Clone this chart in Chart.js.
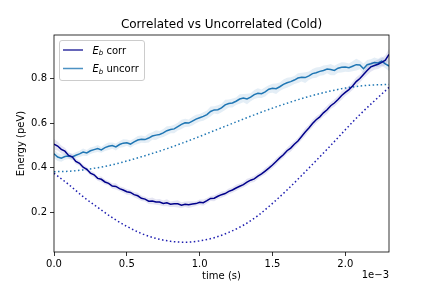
<!DOCTYPE html>
<html>
<head>
<meta charset="utf-8">
<script src="https://cdn.jsdelivr.net/npm/chart.js@4/dist/chart.umd.min.js"></script>
<style>
html,body{margin:0;padding:0;background:#fff;}
#wrap{width:432px;height:288px;}
</style>
</head>
<body>
<div id="wrap"><canvas id="c" width="432" height="288"></canvas></div>
<script>
// time in units of 1e-3 s
const time = [0,0.025,0.05,0.075,0.1,0.125,0.15,0.175,0.2,0.225,
  0.25,0.275,0.3,0.325,0.35,0.375,0.4,0.425,0.45,0.475,
  0.5,0.525,0.55,0.575,0.6,0.625,0.65,0.675,0.7,0.725,
  0.75,0.775,0.8,0.825,0.85,0.875,0.9,0.925,0.95,0.975,
  1.0,1.025,1.05,1.075,1.1,1.125,1.15,1.175,1.2,1.225,
  1.25,1.275,1.3,1.325,1.35,1.375,1.4,1.425,1.45,1.475,
  1.5,1.525,1.55,1.575,1.6,1.625,1.65,1.675,1.7,1.725,
  1.75,1.775,1.8,1.825,1.85,1.875,1.9,1.925,1.95,1.975,
  2.0,2.025,2.05,2.075,2.1,2.125,2.15,2.175,2.2,2.225,
  2.25,2.275,2.3];
const corr = [0.505,0.497,0.482,0.474,0.455,0.449,0.428,0.420,0.402,0.393,
  0.376,0.368,0.352,0.348,0.336,0.330,0.318,0.316,0.306,0.300,
  0.292,0.289,0.279,0.274,0.263,0.259,0.250,0.251,0.246,0.246,
  0.240,0.243,0.236,0.238,0.238,0.232,0.236,0.234,0.237,0.239,
  0.245,0.243,0.252,0.262,0.263,0.272,0.279,0.284,0.294,0.300,
  0.309,0.317,0.324,0.335,0.344,0.350,0.362,0.372,0.385,0.398,
  0.412,0.428,0.444,0.458,0.476,0.488,0.505,0.520,0.540,0.560,
  0.578,0.598,0.615,0.628,0.646,0.660,0.678,0.690,0.706,0.724,
  0.738,0.750,0.766,0.786,0.800,0.818,0.836,0.852,0.858,0.864,
  0.872,0.882,0.908];
const corrErr = [0.024,0.020,0.018,0.016,0.014,0.012,0.013,0.011,0.012,0.010,
  0.011,0.012,0.010,0.013,0.011,0.010,0.012,0.014,0.011,0.012,
  0.013,0.011,0.012,0.014,0.012,0.011,0.013,0.015,0.012,0.014,
  0.013,0.016,0.012,0.014,0.016,0.013,0.012,0.015,0.013,0.011,
  0.012,0.014,0.012,0.011,0.013,0.012,0.014,0.012,0.013,0.012,
  0.014,0.012,0.013,0.015,0.012,0.014,0.013,0.012,0.015,0.013,
  0.014,0.016,0.013,0.015,0.014,0.017,0.015,0.014,0.016,0.018,
  0.015,0.017,0.016,0.014,0.016,0.018,0.015,0.017,0.016,0.019,
  0.017,0.016,0.018,0.020,0.018,0.017,0.020,0.022,0.019,0.021,
  0.020,0.022,0.024];
const uncorr = [0.462,0.448,0.443,0.450,0.452,0.448,0.456,0.462,0.470,0.466,
  0.476,0.481,0.486,0.480,0.490,0.496,0.499,0.493,0.504,0.510,
  0.512,0.506,0.516,0.524,0.528,0.526,0.533,0.542,0.546,0.549,
  0.556,0.566,0.571,0.574,0.584,0.594,0.601,0.600,0.609,0.618,
  0.624,0.630,0.638,0.652,0.659,0.660,0.668,0.682,0.688,0.690,
  0.698,0.708,0.712,0.708,0.716,0.728,0.734,0.732,0.740,0.752,
  0.756,0.754,0.763,0.774,0.781,0.786,0.793,0.802,0.806,0.804,
  0.812,0.822,0.826,0.832,0.836,0.842,0.840,0.836,0.846,0.850,
  0.851,0.848,0.855,0.862,0.861,0.844,0.862,0.866,0.872,0.870,
  0.878,0.866,0.856];
const uncorrErr = [0.020,0.018,0.016,0.014,0.013,0.015,0.013,0.014,0.016,0.013,
  0.015,0.014,0.016,0.013,0.015,0.017,0.014,0.016,0.015,0.018,
  0.014,0.016,0.015,0.018,0.016,0.015,0.020,0.017,0.022,0.016,
  0.018,0.020,0.016,0.019,0.017,0.021,0.018,0.016,0.020,0.019,
  0.017,0.019,0.018,0.022,0.016,0.020,0.019,0.023,0.018,0.020,
  0.017,0.021,0.019,0.024,0.018,0.020,0.022,0.019,0.021,0.018,
  0.020,0.023,0.019,0.021,0.022,0.020,0.018,0.022,0.020,0.024,
  0.019,0.021,0.023,0.020,0.022,0.019,0.025,0.021,0.020,0.023,
  0.021,0.019,0.022,0.026,0.020,0.023,0.021,0.020,0.022,0.019,
  0.021,0.020,0.022];
const timeModel = [0,0.1,0.2,0.3,0.4,0.5,0.6,0.7,0.8,0.9,1.0,1.1,1.2,1.3,1.4,1.5,1.6,1.7,1.8,1.9,2.0,2.1,2.2,2.3];
const uncorrModel = [0.382,0.384,0.390,0.400,0.413,0.430,0.449,0.469,0.491,0.515,0.540,0.566,0.592,0.618,0.643,0.667,0.689,0.710,0.728,0.744,0.757,0.766,0.771,0.773];
const corrModel = [0.375,0.325,0.270,0.222,0.176,0.137,0.105,0.083,0.070,0.066,0.072,0.086,0.110,0.142,0.185,0.240,0.300,0.365,0.432,0.500,0.570,0.638,0.700,0.760];
const xTicks = [0,0.5,1.0,1.5,2.0];
const yTicks = [0.2,0.4,0.6,0.8];
const legendLabels = ['corr','uncorr'];

const cCorr = '#00008b';
const cUncorr = '#1f77b4';
const FONT = 'DejaVu Sans';

const pts = (xs, ys) => xs.map((x,i)=>({x:x, y:ys[i]}));
const lo = (ys, es) => ys.map((y,i)=>y-es[i]);
const hi = (ys, es) => ys.map((y,i)=>y+es[i]);

const textPlugin = {
  id:'texts',
  afterDraw(chart){
    const ctx = chart.ctx, a = chart.chartArea;
    ctx.save();
    ctx.strokeStyle = '#000'; ctx.lineWidth = 0.8;
    ctx.strokeRect(a.left, a.top, a.right-a.left, a.bottom-a.top);
    ctx.fillStyle = '#000';
    ctx.font = '12px "' + FONT + '"';
    ctx.textAlign = 'center'; ctx.textBaseline = 'middle';
    ctx.fillText('Correlated vs Uncorrelated (Cold)', (a.left+a.right)/2, 24.5);
    ctx.font = '10px "' + FONT + '"';
    ctx.fillText('time (s)', (a.left+a.right)/2, 276.5);
    ctx.textAlign = 'right';
    ctx.fillText('1e\u22123', a.right, 275.5);
    ctx.save();
    ctx.translate(21, (a.top+a.bottom)/2);
    ctx.rotate(-Math.PI/2);
    ctx.textAlign = 'center';
    ctx.fillText('Energy (peV)', 0, 0);
    ctx.restore();
    // legend
    const bx = a.left+5.5, by = a.top+5.5, bw = 85, bh = 40, r = 2.5;
    ctx.beginPath();
    ctx.moveTo(bx+r, by); ctx.lineTo(bx+bw-r, by); ctx.arcTo(bx+bw, by, bx+bw, by+r, r);
    ctx.lineTo(bx+bw, by+bh-r); ctx.arcTo(bx+bw, by+bh, bx+bw-r, by+bh, r);
    ctx.lineTo(bx+r, by+bh); ctx.arcTo(bx, by+bh, bx, by+bh-r, r);
    ctx.lineTo(bx, by+r); ctx.arcTo(bx, by, bx+r, by, r);
    ctx.closePath();
    ctx.fillStyle = 'rgba(255,255,255,0.8)'; ctx.fill();
    ctx.strokeStyle = '#cccccc'; ctx.lineWidth = 1; ctx.stroke();
    const rows = [[cCorr, legendLabels[0], 50], [cUncorr, legendLabels[1], 68.5]];
    rows.forEach(([col, lab, y]) => {
      ctx.strokeStyle = col; ctx.lineWidth = 1.5; ctx.globalAlpha = 0.8;
      ctx.beginPath(); ctx.moveTo(bx+3.5, y); ctx.lineTo(bx+23.5, y); ctx.stroke();
      ctx.globalAlpha = 1;
      ctx.fillStyle = '#000'; ctx.textAlign = 'left'; ctx.textBaseline = 'alphabetic';
      let x = bx+33;
      ctx.font = 'italic 10px "' + FONT + '"';
      ctx.fillText('E', x, y+3.6); x += ctx.measureText('E').width;
      ctx.font = 'italic 7px "' + FONT + '"';
      ctx.fillText('b', x, y+5.2); x += ctx.measureText('b').width;
      ctx.font = '10px "' + FONT + '"';
      ctx.fillText(' ' + lab, x, y+3.6);
    });
    ctx.restore();
  }
};

new Chart(document.getElementById('c'), {
  type:'line',
  data:{
    datasets:[
      {data:pts(time, lo(corr,corrErr)), borderWidth:0, pointRadius:0, fill:false, backgroundColor:'rgba(0,0,139,0.1)'},
      {data:pts(time, hi(corr,corrErr)), borderWidth:0, pointRadius:0, fill:'-1', backgroundColor:'rgba(0,0,139,0.1)'},
      {data:pts(time, lo(uncorr,uncorrErr)), borderWidth:0, pointRadius:0, fill:false, backgroundColor:'rgba(31,119,180,0.12)'},
      {data:pts(time, hi(uncorr,uncorrErr)), borderWidth:0, pointRadius:0, fill:'-1', backgroundColor:'rgba(31,119,180,0.12)'},
      {data:pts(time, corr), borderColor:cCorr, borderWidth:1.5, pointRadius:0, fill:false},
      {data:pts(time, uncorr), borderColor:cUncorr, borderWidth:1.5, pointRadius:0, fill:false},
      {data:pts(timeModel, uncorrModel), borderColor:cUncorr, borderWidth:1.5, borderDash:[1.5,2.5], pointRadius:0, fill:false, cubicInterpolationMode:'monotone'},
      {data:pts(timeModel, corrModel), borderColor:'#1e1eb0', borderWidth:1.5, borderDash:[1.5,2.5], pointRadius:0, fill:false, cubicInterpolationMode:'monotone'}
    ]
  },
  options:{
    responsive:false, animation:false, devicePixelRatio:1,
    layout:{padding:{top:35, right:43, left:0, bottom:0}},
    plugins:{legend:{display:false}, title:{display:false}, tooltip:{enabled:false}},
    scales:{
      x:{type:'linear', min:0, max:2.3,
        afterBuildTicks:s=>{s.ticks = xTicks.map(v=>({value:v}));},
        afterFit:s=>{s.height = 36;},
        ticks:{callback:v=>v.toFixed(1), color:'#000', font:{family:FONT, size:10}, padding:2, maxRotation:0, autoSkip:false},
        grid:{drawOnChartArea:false, drawTicks:true, tickLength:4, color:'#000', lineWidth:0.8},
        border:{display:false}
      },
      y:{type:'linear', min:0.022, max:0.995,
        afterBuildTicks:s=>{s.ticks = yTicks.map(v=>({value:v}));},
        afterFit:s=>{s.width = 54;},
        ticks:{callback:v=>v.toFixed(1), color:'#000', font:{family:FONT, size:10}, padding:3, autoSkip:false},
        grid:{drawOnChartArea:false, drawTicks:true, tickLength:4, color:'#000', lineWidth:0.8},
        border:{display:false}
      }
    }
  },
  plugins:[textPlugin]
});
</script>
</body>
</html>
